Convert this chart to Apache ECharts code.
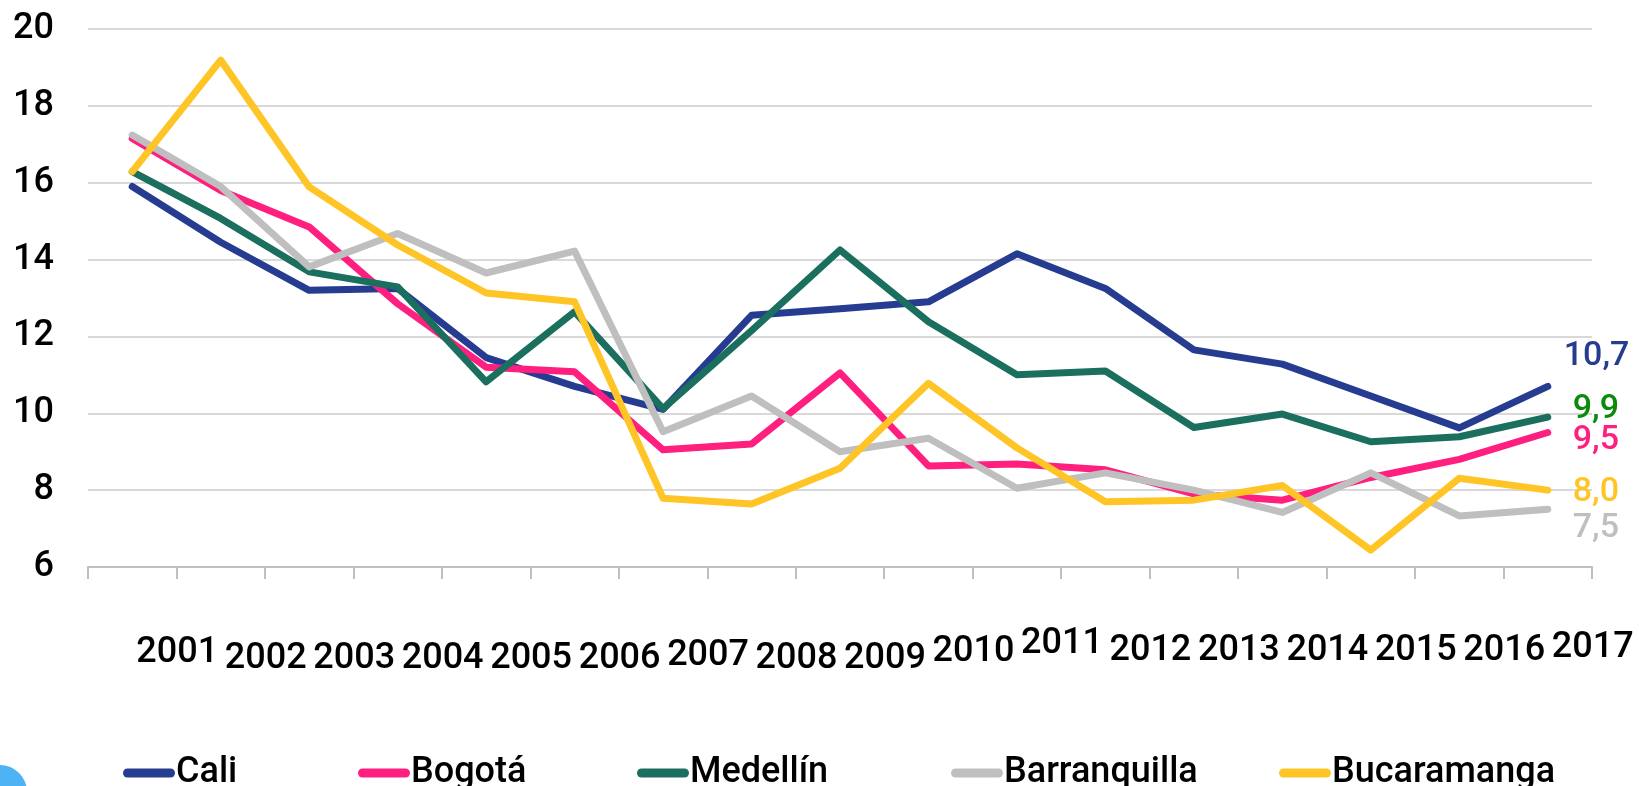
<!DOCTYPE html>
<html>
<head>
<meta charset="utf-8">
<script src="https://cdn.jsdelivr.net/npm/echarts@6/dist/echarts.min.js"></script>
<style>
  html, body { margin: 0; padding: 0; background: #fff; }
  #chart { width: 1639px; height: 786px; }
</style>
</head>
<body>
<div id="chart"></div>
<script>
var years = ['2001', '2002', '2003', '2004', '2005', '2006', '2007', '2008', '2009',
             '2010', '2011', '2012', '2013', '2014', '2015', '2016', '2017'];
var cities = ['Cali', 'Bogotá', 'Medellín', 'Barranquilla', 'Bucaramanga'];
var cali = [15.9, 14.45, 13.2, 13.25, 11.45, 10.7, 10.1, 12.55, 12.72, 12.9, 14.15, 13.25, 11.65, 11.28, 10.45, 9.62, 10.7];
var bogota = [17.15, 15.8, 14.85, 12.85, 11.2, 11.08, 9.05, 9.2, 11.05, 8.63, 8.68, 8.53, 7.9, 7.74, 8.33, 8.8, 9.5];
var medellin = [16.29, 15.07, 13.68, 13.29, 10.82, 12.64, 10.12, 12.15, 14.25, 12.38, 11.0, 11.1, 9.63, 9.98, 9.26, 9.39, 9.9];
var barranquilla = [17.24, 15.9, 13.81, 14.68, 13.65, 14.22, 9.52, 10.45, 9.0, 9.35, 8.05, 8.45, 8.0, 7.42, 8.45, 7.33, 7.5];
var bucaramanga = [16.29, 19.19, 15.89, 14.38, 13.13, 12.9, 7.79, 7.64, 8.57, 10.78, 9.1, 7.7, 7.74, 8.12, 6.44, 8.31, 8.0];
var yTicks = [6, 8, 10, 12, 14, 16, 18, 20];

// the year labels in the picture sit a little up or down, one by one
var labelDrop = [9, 15, 15, 15, 15, 15, 12, 15, 15, 8, 0, 7, 7, 7, 7, 7, 4];
// legend entries are not evenly spaced in the picture
var legendLeft = [123, 358, 637, 951, 1279];

var font = 'Roboto, "Liberation Sans", sans-serif';

function lineSeries(name, data, color, labelColor, offset) {
    return {
        name: name,
        type: 'line',
        data: data,
        symbol: 'none',
        lineStyle: { width: 7, color: color, cap: 'round', join: 'round' },
        itemStyle: { color: color },
        endLabel: {
            show: true,
            distance: 5,
            offset: offset,
            color: labelColor,
            fontFamily: font,
            fontWeight: 500,
            fontSize: 34,
            formatter: function(p) {
                return p.value.toFixed(1).replace('.', ',');
            }
        }
    };
}

var legends = cities.map(function(c, i) {
    return {
        left: legendLeft[i],
        top: 755,
        padding: 0,
        itemWidth: 52,
        itemHeight: 9,
        icon: 'path://M4.5,0 L47.5,0 A4.5,4.5 0 0 1 47.5,9 L4.5,9 A4.5,4.5 0 0 1 4.5,0 Z',
        textStyle: { fontSize: 36, fontWeight: 500, color: '#000', fontFamily: font, padding: [0, 0, 0, -4] },
        data: [c]
    };
});

var chart = echarts.init(document.getElementById('chart'));
chart.setOption({
    animation: false,
    backgroundColor: '#fff',
    textStyle: { fontFamily: font },
    grid: { left: 88, right: 47, top: 29, bottom: 219 },
    legend: legends,
    xAxis: {
        type: 'category',
        data: years.map(function(y, i) {
            return { value: y, textStyle: { padding: [labelDrop[i], 0, 0, 90] } };
        }),
        axisLine: { lineStyle: { color: '#BFBFBF', width: 2 } },
        axisTick: { show: true, length: 12, lineStyle: { color: '#BFBFBF', width: 2 } },
        axisLabel: { interval: 0, margin: 59, fontSize: 36, fontWeight: 500, color: '#000', fontFamily: font },
        splitLine: { show: false }
    },
    yAxis: {
        type: 'value',
        min: yTicks[0],
        max: yTicks[yTicks.length - 1],
        interval: 2,
        axisLine: { show: false },
        axisTick: { show: false },
        axisLabel: { margin: 34, fontSize: 36, fontWeight: 500, color: '#000', fontFamily: font },
        splitLine: { lineStyle: { color: '#D9D9D9', width: 2 } }
    },
    graphic: [{
        type: 'circle',
        shape: { cx: 0, cy: 792, r: 27 },
        style: { fill: '#4DB3F5' },
        silent: true
    }],
    series: [
        lineSeries(cities[0], cali, '#263C91', '#263C91', [11, -30]),
        lineSeries(cities[1], bogota, '#FF1F7F', '#FF1F7F', [20, 8]),
        lineSeries(cities[2], medellin, '#1B6F5F', '#0B8A0B', [20, -8]),
        lineSeries(cities[3], barranquilla, '#BFBFBF', '#BFBFBF', [20, 19]),
        lineSeries(cities[4], bucaramanga, '#FFC526', '#FFC526', [20, 2])
    ]
});
</script>
</body>
</html>
